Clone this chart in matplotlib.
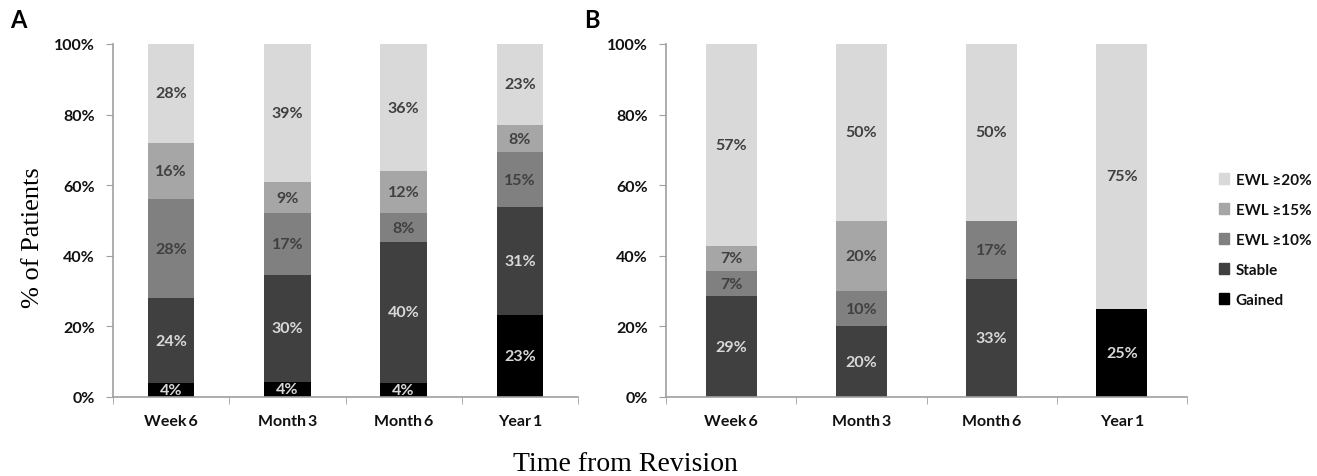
"""Stacked bars of weight change after revision, two panels."""
import numpy as np
from matplotlib import pyplot as plt
from matplotlib.patches import Patch

categories = ['Week 6', 'Month 3', 'Month 6', 'Year 1']
series = ['Gained', 'Stable', 'EWL \u226510%', 'EWL \u226515%', 'EWL \u226520%']
colors = ['#000000', '#404040', '#808080', '#a6a6a6', '#d9d9d9']
text_colors = ['#d9d9d9', '#d9d9d9', '#404040', '#404040', '#404040']

# panel A, percent of patients per category (rows follow `series`)
gained_a = [4.0, 4.3, 4.0, 23.1]
stable_a = [24.0, 30.4, 40.0, 30.8]
ewl10_a = [28.0, 17.4, 8.0, 15.4]
ewl15_a = [16.0, 8.7, 12.0, 7.7]
ewl20_a = [28.0, 39.1, 36.0, 23.1]

# panel B
gained_b = [0.0, 0.0, 0.0, 25.0]
stable_b = [28.6, 20.0, 33.3, 0.0]
ewl10_b = [7.1, 10.0, 16.7, 0.0]
ewl15_b = [7.1, 20.0, 0.0, 0.0]
ewl20_b = [57.1, 50.0, 50.0, 75.0]

SANS = ['Lato', 'DejaVu Sans']
SERIF = ['Liberation Serif', 'DejaVu Serif']
W, H = 1317, 477


def stacked(ax, rows, width):
    """Draw one stacked bar panel."""
    x = np.arange(len(categories))
    bottom = np.zeros(len(categories))
    for vals, col, tcol in zip(rows, colors, text_colors):
        vals = np.asarray(vals)
        ax.bar(x, vals, width, bottom=bottom, color=col, zorder=2)
        for xi, v, b in zip(x, vals, bottom):
            if v > 0:
                ax.text(xi, b + v / 2, f'{v:.0f}%', ha='center',
                        va='center', color=tcol, fontsize=11.5,
                        fontweight='bold', family=SANS)
        bottom += vals
    ax.set_xlim(-0.5, len(categories) - 0.5)
    ax.set_ylim(0, 100)
    ax.set_yticks(np.arange(0, 101, 20))
    ax.set_yticklabels([f'{t}%' for t in range(0, 101, 20)])
    ax.set_xticks(x)
    ax.set_xticklabels([c.replace(' ', '\u2009') for c in categories])
    ax.set_xticks(np.arange(-0.5, len(categories)), minor=True)
    ax.tick_params(axis='x', which='major', length=0, pad=12)
    ax.tick_params(axis='x', which='minor', length=5, color='#a0a0a0',
                   direction='out')
    ax.tick_params(axis='y', length=5, color='#a0a0a0', pad=8)
    for lab in ax.get_xticklabels() + ax.get_yticklabels():
        lab.set_family(SANS)
        lab.set_fontweight('bold')
        lab.set_fontsize(11.5)
        lab.set_color('#111111')
    for s in ('top', 'right'):
        ax.spines[s].set_visible(False)
    for s in ('left', 'bottom'):
        ax.spines[s].set_color('#a0a0a0')
        ax.spines[s].set_linewidth(1.2)


fig = plt.figure(figsize=(W / 100, H / 100), dpi=100)
ax_a = fig.add_axes([113 / W, 1 - 398 / H, 465 / W, 353 / H])
ax_b = fig.add_axes([666 / W, 1 - 398 / H, 521 / W, 353 / H])

stacked(ax_a, [gained_a, stable_a, ewl10_a, ewl15_a, ewl20_a], 0.4)
stacked(ax_b, [gained_b, stable_b, ewl10_b, ewl15_b, ewl20_b], 0.39)

fig.text(10 / W, 1 - 21 / H, 'A', fontsize=17, fontweight='bold',
         family=SANS, va='center', ha='left')
fig.text(584 / W, 1 - 21 / H, 'B', fontsize=17, fontweight='bold',
         family=SANS, va='center', ha='left')
fig.text(33 / W, 1 - 238 / H, '% of Patients', rotation=90, fontsize=19,
         family=SERIF, ha='center', va='center')
fig.text(625 / W, 1 - 465 / H, 'Time from Revision', fontsize=20,
         family=SERIF, ha='center', va='center')

handles = [Patch(color=c, label=s) for s, c in zip(series, colors)][::-1]
leg = fig.legend(handles=handles, loc='upper left',
                 bbox_to_anchor=(1205 / W, 1 - 160 / H), frameon=False,
                 handlelength=0.7, handleheight=0.7, handletextpad=0.4,
                 labelspacing=1.05, prop={'family': SANS, 'size': 11,
                                          'weight': 'bold'})
for t in leg.get_texts():
    t.set_color('#111111')

fig.savefig('out.png', dpi=100)
